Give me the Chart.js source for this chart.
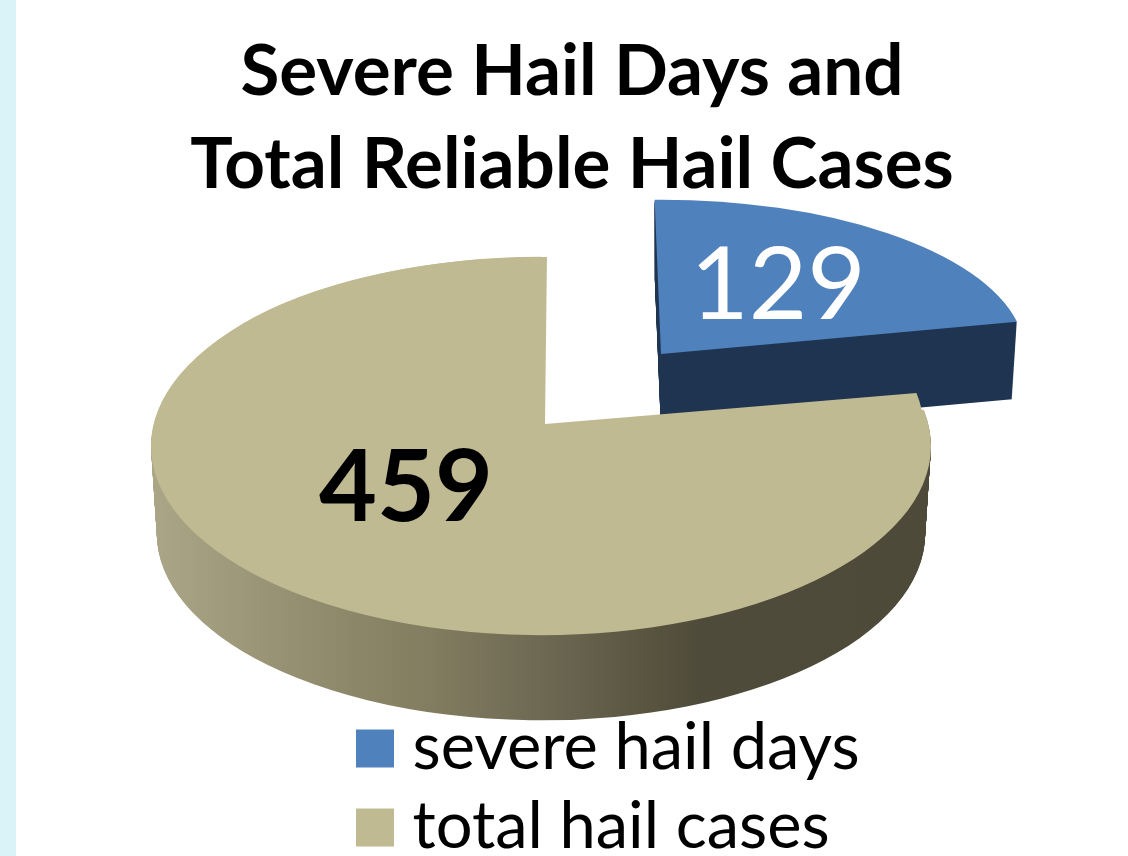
<!DOCTYPE html>
<html><head><meta charset="utf-8">
<script src="https://cdn.jsdelivr.net/npm/chart.js@4"></script>
<style>
html,body{margin:0;padding:0;background:#d9f3f9;overflow:hidden}
canvas{display:block;position:absolute;left:16px;top:0;background:#fff}
</style></head><body>
<canvas id="c" width="1112" height="856"></canvas>
<script>
const titleLines = ['Severe Hail Days and', 'Total Reliable Hail Cases'];
const categories = ['severe hail days', 'total hail cases'];
const values = [129, 459];
const topColors = ['#4f81bd', '#c0ba92'];
const LEFT = 16;
const D2R = Math.PI / 180;
// how each slice is projected: screen position of the apex, radius, foreshortening.
// The first shape of a slice also carries the side wall.
const proj = [
  [{x: 661, y: 354, r: 364, up: 0.424, rot: -1, depth: 77, taper: 0.986}],
  [{x: 541, y: 446, r: 390, up: 0.485, rot: 0, depth: 88, taper: 0.985},
   {x: 545, y: 424, r: 378, up: 0.442, rot: 0.3}]
];
const wallStops = [
  [ [0, '#1f3450'], [1, '#1f3450'] ],
  [ [150, '#aca688'], [300, '#958f71'], [430, '#827c60'], [540, '#6e6953'], [650, '#58543f'], [700, '#4f4b3a'], [930, '#4e4a39'] ]
];
const labelStyle = [
  {x: 778, y: 286, color: '#fff', font: '400 101px Lato'},
  {x: 406, y: 489, color: '#000', font: '700 100px Lato'}
];
const fake3d = {
  id: 'fake3d',
  afterLayout(chart) {
    const l = chart.legend;
    l.left = 356 - LEFT; l.right = l.left + l.width; l.top = 702; l.bottom = 1000;
  },
  beforeDatasetDraw(chart) {
    const ctx = chart.ctx;
    const arcs = chart.getDatasetMeta(0).data;
    const drawAt = (el, p, opt, dy, scale) => {
      const k = p.r * scale / el.outerRadius, py = p.y + dy, px = p.x - LEFT;
      const saved = el.options;
      ctx.save();
      ctx.translate(px, py);
      ctx.scale(k, k * p.up);
      ctx.rotate(p.rot * D2R);
      ctx.translate(-el.x, -el.y);
      let fill = opt;
      if (Array.isArray(opt)) {
        const toEl = X => el.x + (X - LEFT - px) / k;
        const a = opt[0][0], b = opt[opt.length - 1][0];
        const g = ctx.createLinearGradient(toEl(a), 0, toEl(b || 1), 0);
        opt.forEach(([s, c]) => g.addColorStop(b > 1 ? (s - a) / (b - a) : s, c));
        fill = g;
      }
      const o = Object.create(saved);
      o.backgroundColor = fill;
      el.options = o;
      el.draw(ctx);
      el.options = saved;
      ctx.restore();
    };
    arcs.forEach((el, i) => {
      const shapes = proj[i], p = shapes[0];
      for (let d = p.depth; d >= 1; d--) {
        drawAt(el, p, wallStops[i], d, 1 - (1 - p.taper) * d / p.depth);
      }
      shapes.forEach(s => drawAt(el, s, topColors[i], 0, 1));
    });
    return false;
  },
  afterDatasetsDraw(chart) {
    const ctx = chart.ctx;
    chart.data.datasets[0].data.forEach((v, i) => {
      const s = labelStyle[i];
      ctx.save();
      ctx.font = s.font; ctx.fillStyle = s.color;
      ctx.textAlign = 'center'; ctx.textBaseline = 'middle';
      ctx.fillText(String(v), s.x - LEFT, s.y);
      ctx.restore();
    });
  }
};
new Chart(document.getElementById('c'), {
  type: 'pie',
  plugins: [fake3d],
  data: {
    labels: categories,
    datasets: [{data: values, backgroundColor: topColors, borderWidth: 0}]
  },
  options: {
    responsive: false,
    animation: false,
    events: [],
    layout: {padding: {top: 26}},
    plugins: {
      tooltip: {enabled: false},
      title: {
        display: true, text: titleLines, color: '#000',
        font: {family: 'Lato', size: 71, weight: '700', lineHeight: '93px'},
        padding: 0
      },
      legend: {
        position: 'left', align: 'start',
        labels: {
          boxWidth: 10, boxHeight: 38, usePointStyle: true, pointStyle: 'rect',
          padding: 14, color: '#000',
          font: {family: 'Lato', size: 65, weight: '400'}
        }
      }
    }
  }
});
</script>
</body></html>
